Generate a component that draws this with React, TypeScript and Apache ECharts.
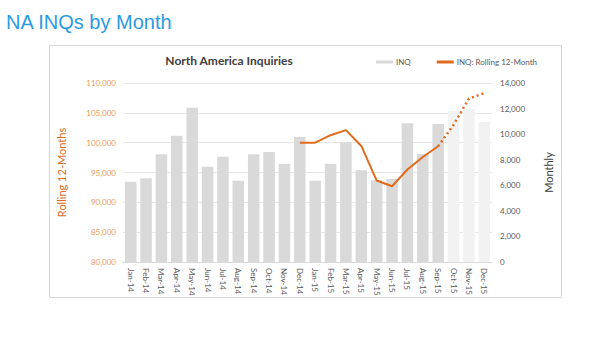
import React, { useEffect, useRef } from "react";
import * as echarts from "echarts";

const months = [
  "Jan-14", "Feb-14", "Mar-14", "Apr-14", "May-14", "Jun-14", "Jul-14", "Aug-14", "Sep-14", "Oct-14", "Nov-14", "Dec-14",
  "Jan-15", "Feb-15", "Mar-15", "Apr-15", "May-15", "Jun-15", "Jul-15", "Aug-15", "Sep-15", "Oct-15", "Nov-15", "Dec-15",
];
const monthlyInq = [
  6280, 6550, 8420, 9880, 12070, 7450, 8240, 6360, 8420, 8600, 7690, 9780,
  6360, 7690, 9360, 7170, 6390, 6490, 10850, 8450, 10800, 11810, 11970, 10950,
];
const forecastMonths = ["Oct-15", "Nov-15", "Dec-15"];
const rollingActual = [
  null, null, null, null, null, null, null, null, null, null, null, 100000,
  100000, 101250, 102100, 99450, 93650, 92700, 95500, 97600, 99400, null, null, null,
];
const rollingForecast = [
  null, null, null, null, null, null, null, null, null, null, null, null,
  null, null, null, null, null, null, null, null, 99400, 103000, 107400, 108300,
];
const leftTicks = { min: 80000, max: 110000, interval: 5000 };
const rightTicks = { min: 0, max: 14000, interval: 2000 };

const ORANGE = "#e06b1c";
const FONT = "Lato, 'Noto Sans', sans-serif";

export default function App() {
  const ref = useRef<HTMLDivElement>(null);
  useEffect(() => {
    document.body.style.margin = "0";
    const chart = echarts.init(ref.current!, null, { renderer: "svg" });
    chart.setOption({
      animation: false,
      backgroundColor: "#ffffff",
      textStyle: { fontFamily: FONT },
      graphic: [
        {
          type: "rect",
          z: -10,
          shape: { x: 49.5, y: 45.5, width: 512, height: 252 },
          style: { fill: "#ffffff", stroke: "#d9d9d9", lineWidth: 1 },
        },
        {
          type: "text",
          x: 6,
          y: 12,
          style: {
            text: "NA INQs by Month",
            font: "20px 'Liberation Sans', Arial, sans-serif",
            fill: "#2b9be0",
          },
        },
        {
          type: "text",
          x: 229,
          y: 54,
          style: {
            text: "North America Inquiries",
            font: "bold 12px Lato, sans-serif",
            fill: "#404040",
            textAlign: "center",
          },
        },
      ],
      legend: {
        top: 53,
        left: 371,
        itemWidth: 17,
        itemHeight: 3,
        itemGap: 26,
        icon: "rect",
        textStyle: { fontSize: 8, color: "#595959", fontFamily: FONT, padding: [0, 0, 0, -2] },
        data: [
          { name: "INQ", itemStyle: { color: "#d9d9d9" } },
          { name: "INQ: Rolling 12-Month", itemStyle: { color: ORANGE } },
        ],
      },
      grid: { left: 123, right: 122, top: 83, bottom: 82, containLabel: false },
      xAxis: {
        type: "category",
        data: months,
        axisLine: { lineStyle: { color: "#d9d9d9" } },
        axisTick: { show: false },
        axisLabel: { rotate: -90, fontSize: 8, color: "#595959", margin: 6, interval: 0 },
      },
      yAxis: [
        {
          type: "value",
          position: "left",
          min: leftTicks.min,
          max: leftTicks.max,
          interval: leftTicks.interval,
          name: "Rolling 12-Months",
          nameLocation: "middle",
          nameGap: 56,
          nameTextStyle: { color: ORANGE, fontSize: 11, fontFamily: FONT },
          axisLine: { show: false },
          axisTick: { show: false },
          axisLabel: {
            color: "#ec9a5a",
            fontSize: 8,
            margin: 7,
            formatter: (v: number) => v.toLocaleString("en-US"),
          },
          splitLine: { lineStyle: { color: "#e6e6e6", width: 1 } },
        },
        {
          type: "value",
          position: "right",
          min: rightTicks.min,
          max: rightTicks.max,
          interval: rightTicks.interval,
          name: "Monthly",
          nameLocation: "middle",
          nameGap: 51,
          nameRotate: 90,
          nameTextStyle: { color: "#404040", fontSize: 11, fontFamily: FONT },
          axisLine: { show: false },
          axisTick: { show: false },
          axisLabel: {
            color: "#595959",
            fontSize: 8,
            margin: 8,
            formatter: (v: number) => v.toLocaleString("en-US"),
          },
          splitLine: { show: false },
        },
      ],
      series: [
        {
          name: "INQ",
          type: "bar",
          yAxisIndex: 1,
          barWidth: 11.5,
          data: monthlyInq.map((v, i) => ({
            value: v,
            itemStyle: { color: forecastMonths.includes(months[i]) ? "#f2f2f2" : "#d9d9d9" },
          })),
        },
        {
          name: "INQ: Rolling 12-Month",
          type: "line",
          yAxisIndex: 0,
          data: rollingActual,
          showSymbol: false,
          symbol: "none",
          lineStyle: { color: ORANGE, width: 2 },
          itemStyle: { color: ORANGE },
          z: 5,
        },
        {
          name: "Forecast",
          type: "line",
          yAxisIndex: 0,
          data: rollingForecast,
          showSymbol: false,
          symbol: "none",
          lineStyle: { color: ORANGE, width: 2.5, type: [2, 3] },
          itemStyle: { color: ORANGE },
          z: 5,
        },
      ],
    });
    return () => chart.dispose();
  }, []);
  return <div ref={ref} style={{ width: 614, height: 344 }} />;
}
